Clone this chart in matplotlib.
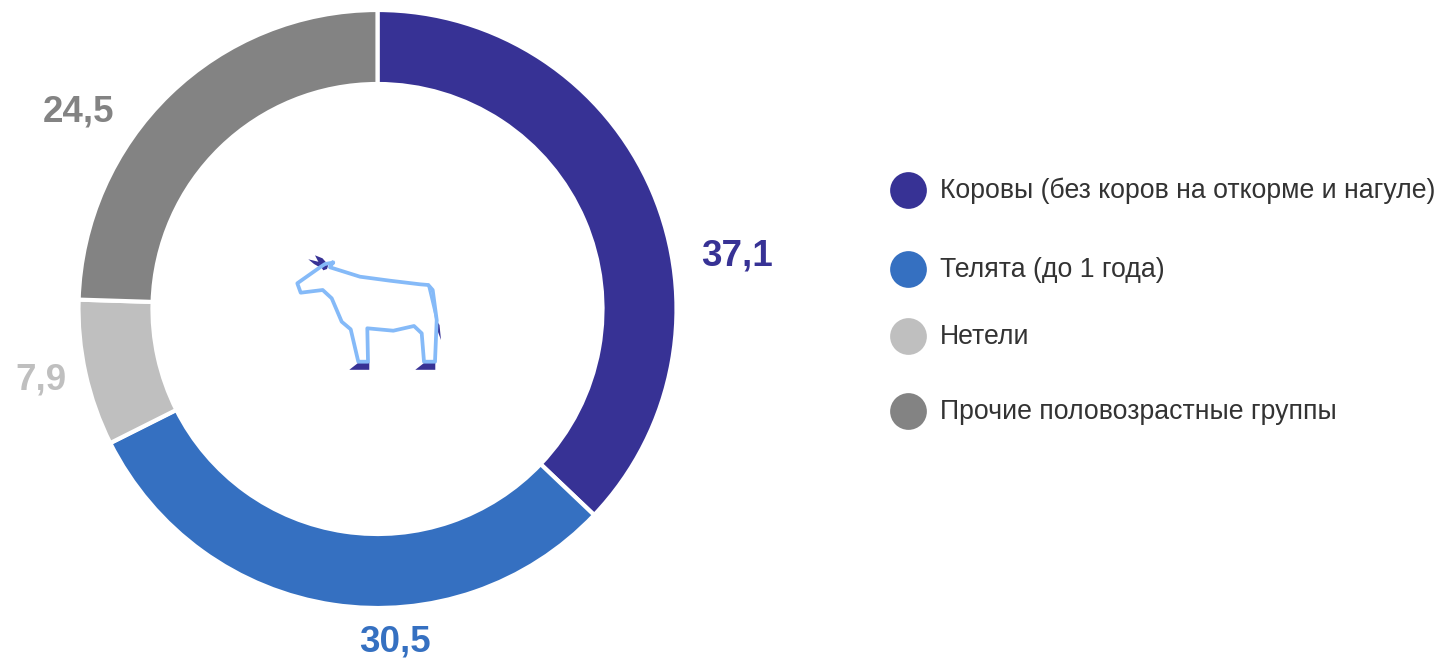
import matplotlib
matplotlib.use('Agg')
import matplotlib.pyplot as plt

plt.rcParams['font.family'] = ['Liberation Sans', 'DejaVu Sans']

labels = ['Коровы (без коров на откорме и нагуле)', 'Телята (до 1 года)', 'Нетели', 'Прочие половозрастные группы']
values = [37.1, 30.5, 7.9, 24.5]
value_labels = ['37,1', '30,5', '7,9', '24,5']
colors = ['#373295', '#3570c1', '#bfbfbf', '#838383']

# cow drawing, in pixels of the 1440x660 picture
cow_line_x = [332.7, 330, 360, 390, 420, 428.3, 432.7, 436.7, 435, 424, 421.7, 414, 393.3, 367.3, 368, 358.3,
              350.7, 341.7, 331.7, 322.7, 300.7, 297.3, 320, 325, 332.7]
cow_line_y = [262.7, 267.3, 276.7, 280.7, 284.3, 285, 290, 320, 361.7, 361.7, 333.3, 326, 330.7, 328.3, 361.7, 361.7,
              329.3, 321.7, 298.3, 290, 292.7, 283.3, 267.3, 264, 262.7]
tail_x = [428.3, 436.7]
tail_y = [285, 320]
tuft_x = [437.3, 439.5, 441, 438]
tuft_y = [321.7, 325, 340, 332]
hoof1_x = [349.3, 359.3, 369.3, 369.3]
hoof1_y = [369.8, 362, 362, 369.8]
hoof2_x = [415.3, 425.3, 435.3, 435.3]
hoof2_y = [369.8, 362, 362, 369.8]
horn1_x = [308.3, 319.3, 321, 314]
horn1_y = [259.3, 262, 268, 264]
horn2_x = [315, 322.5, 328.3, 327, 323.3, 320.5]
horn2_y = [255.3, 258.3, 265, 269, 270.3, 266]

fig = plt.figure(figsize=(14.4, 6.6), dpi=100)
ax = fig.add_axes([0, 0, 1, 1])

# y axis runs downward, so counterclock=True comes out clockwise on screen
wedges, _ = ax.pie(values, colors=colors, startangle=-90, counterclock=True,
                   center=(377.5, 309), radius=299, frame=True,
                   wedgeprops=dict(width=74, edgecolor='white', linewidth=3))
ax.set_xlim(0, 1440)
ax.set_ylim(660, 0)
ax.set_aspect('equal')
ax.axis('off')

label_x = [737, 395, 41, 79]
label_y = [256, 642, 380, 112]
for t, c, lx, ly in zip(value_labels, colors, label_x, label_y):
    ax.text(lx, ly, t, color=c, fontsize=26.5, fontweight='bold', ha='center', va='center')

legend_y = [190, 269, 336, 411]
for t, c, ly in zip(labels, colors, legend_y):
    ax.scatter([908], [ly], s=700, color=c, linewidths=0)
    ax.text(940, ly + 1, t, color='#333333', fontsize=19.15, ha='left', va='center')

ax.plot(cow_line_x, cow_line_y, color='#85baf8', lw=2.7)
ax.plot(tail_x, tail_y, color='#85baf8', lw=1.8)
ax.fill(hoof1_x, hoof1_y, color='#373295', lw=0)
ax.fill(hoof2_x, hoof2_y, color='#373295', lw=0)
ax.fill(horn1_x, horn1_y, color='#373295', lw=0)
ax.fill(horn2_x, horn2_y, color='#373295', lw=0)
ax.fill(tuft_x, tuft_y, color='#373295', lw=0)

fig.savefig('out.png', dpi=100)
